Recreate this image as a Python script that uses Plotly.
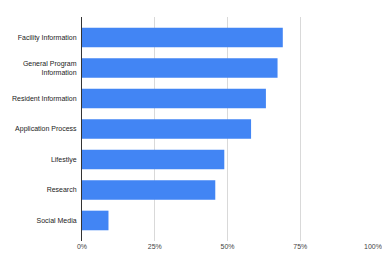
import plotly.graph_objects as go

categories = ["Facility Information", "General Program<br>Information", "Resident Information",
              "Application Process", "Lifestlye", "Research", "Social Media"]
values = [0.69, 0.672, 0.632, 0.581, 0.489, 0.458, 0.091]
tick_vals = [0, 0.25, 0.5, 0.75, 1.0]
tick_text = ["0%", "25%", "50%", "75%", "100%"]

fig = go.Figure(go.Bar(
    x=values, y=categories, orientation="h",
    marker=dict(color="#4285F4", line=dict(width=0)),
))

# page body has an 8px margin, so the figure is sized/offset to compensate
fig.update_layout(
    width=382, height=246,
    margin=dict(l=74, r=17, t=9, b=13),
    paper_bgcolor="white", plot_bgcolor="white",
    bargap=0.357,
    showlegend=False,
    font=dict(family="Liberation Sans, Arial, sans-serif", size=7, color="#222"),
)
fig.update_xaxes(
    range=[0, 1], tickvals=tick_vals, ticktext=tick_text,
    showgrid=True, gridcolor="#d9d9d9", gridwidth=1,
    zeroline=False, showline=False, automargin=False,
    tickfont=dict(size=7, color="#444"),
)
fig.update_yaxes(
    type="category", categoryorder="array", categoryarray=categories,
    range=[6.673, -0.673], showgrid=False, zeroline=False,
    showline=True, linecolor="#333", linewidth=1,
    automargin=False, ticks="", ticklabelstandoff=3,
    tickfont=dict(size=7, color="#222"),
)

fig.write_html("out.html")
